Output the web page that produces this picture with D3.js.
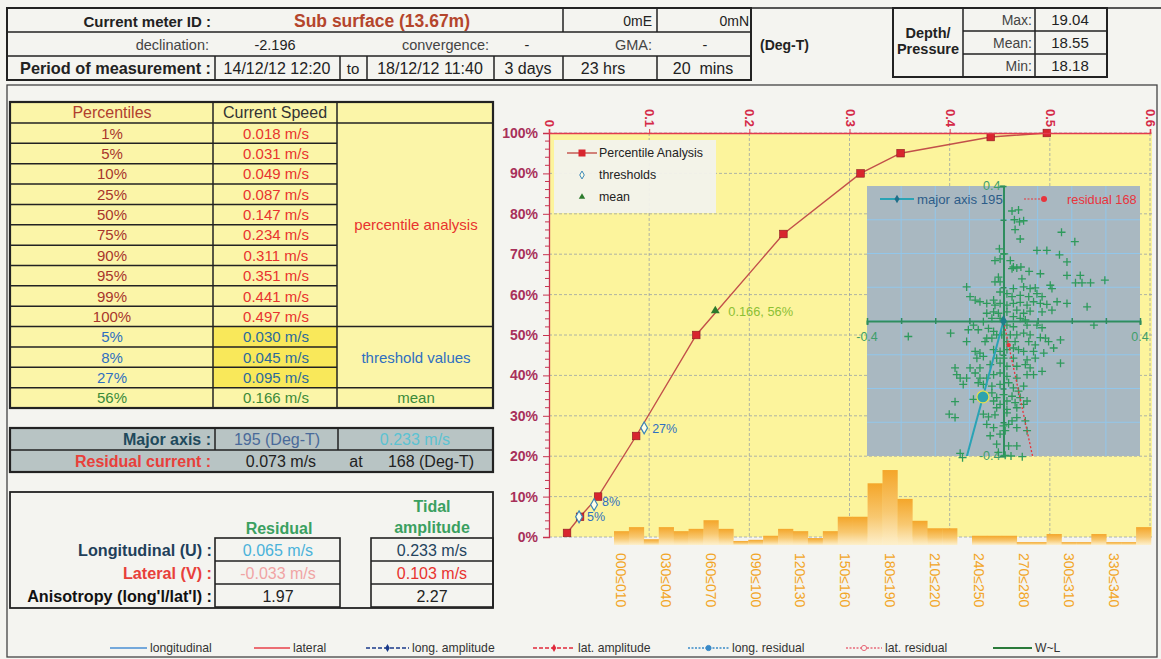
<!DOCTYPE html>
<html>
<head>
<meta charset="utf-8">
<script src="https://cdn.jsdelivr.net/npm/d3@7"></script>
<style>
  html, body { margin: 0; padding: 0; background: #f4f4f0; }
  svg { display: block; font-family: "Liberation Sans", Arial, Helvetica, sans-serif; }
  text { white-space: pre; }
</style>
</head>
<body>
<svg id="chart" width="1161" height="659"></svg>
<script>
// ---------------- data ----------------
const percentileLevels = [1, 5, 10, 25, 50, 75, 90, 95, 99, 100];
const percentileSpeeds = [0.018, 0.031, 0.049, 0.087, 0.147, 0.234, 0.311, 0.351, 0.441, 0.497];
const thresholdLevels = [5, 8, 27];
const thresholdSpeeds = [0.030, 0.045, 0.095];
const meanLevel = 56;
const meanSpeed = 0.166;

const speedTicks = [0, 0.1, 0.2, 0.3, 0.4, 0.5, 0.6];
const percentTicks = [0, 10, 20, 30, 40, 50, 60, 70, 80, 90, 100];

// direction histogram, 10 degree sectors (% of records)
const directionBins = ["000≤010","010≤020","020≤030","030≤040","040≤050","050≤060","060≤070","070≤080","080≤090",
  "090≤100","100≤110","110≤120","120≤130","130≤140","140≤150","150≤160","160≤170","170≤180",
  "180≤190","190≤200","200≤210","210≤220","220≤230","230≤240","240≤250","250≤260","260≤270",
  "270≤280","280≤290","290≤300","300≤310","310≤320","320≤330","330≤340","340≤350","350≤360"];
const directionFreq = [2.4, 3.1, 1.0, 3.1, 2.4, 2.8, 4.3, 2.8, 0.7, 0.9, 1.6, 2.8, 2.4, 1.2, 2.4, 4.9, 4.9, 10.7,
  13.0, 8.0, 4.2, 2.9, 2.9, 0.0, 1.6, 1.6, 1.6, 0.5, 0.5, 1.9, 0.5, 0.5, 1.9, 0.5, 0.5, 3.1];
const directionLabelEvery = 3;

// scatter of east (u) / north (v) current components, m/s
const currentSamples = [
  [0.025,0.326],[0.044,0.329],[0.032,0.300],[0.047,0.294],[0.059,0.297],[0.034,0.271],[0.049,0.243],
  [0.170,0.263],[0.209,0.235],[0.098,0.209],[0.127,0.209],[0.164,0.196],[0.186,0.175],[-0.012,0.214],
  [0.002,0.199],[-0.025,0.179],[-0.010,0.184],[0.020,0.179],[0.029,0.160],[0.051,0.160],[0.039,0.157],
  [0.025,0.155],[0.075,0.147],[0.054,0.125],[0.108,0.140],[0.186,0.135],[0.225,0.135],[0.211,0.113],
  [0.230,0.113],[0.255,0.113],[0.297,0.121],[-0.015,0.130],[-0.010,0.116],[-0.025,0.116],[-0.108,0.101],
  [0.029,0.096],[0.059,0.101],[0.078,0.096],[0.093,0.098],[0.137,0.106],[0.142,0.096],[0.098,0.081],
  [0.113,0.072],[-0.010,0.086],[0.010,0.081],[0.025,0.072],[0.049,0.076],[0.074,0.072],[-0.098,0.072],
  [-0.083,0.062],[-0.069,0.057],[-0.049,0.052],[-0.029,0.062],[-0.025,0.047],[-0.010,0.052],[0.010,0.047],
  [0.029,0.052],[0.049,0.055],[0.069,0.047],[0.088,0.057],[0.108,0.052],[0.127,0.049],[0.157,0.057],
  [0.186,0.052],[0.245,0.042],[-0.049,0.023],[-0.029,0.027],[-0.015,0.023],[0.010,0.027],[0.039,0.032],
  [0.059,0.023],[0.078,0.029],[0.113,0.027],[0.142,0.032],[-0.010,0.008],[-0.034,0.008],[-0.059,-0.002],
  [-0.088,-0.012],[0.029,0.013],[0.049,0.008],[0.064,0.003],[0.265,-0.012],[-0.279,-0.046],[-0.155,-0.036],
  [-0.103,-0.026],[-0.074,-0.026],[-0.044,-0.022],[-0.029,-0.031],[0.010,-0.012],[0.029,-0.017],[0.069,-0.012],
  [0.098,-0.012],[0.113,-0.020],[-0.049,-0.051],[-0.034,-0.051],[-0.020,-0.041],[-0.005,-0.041],[0.020,-0.041],
  [0.039,-0.041],[0.059,-0.036],[0.078,-0.041],[0.108,-0.049],[0.123,-0.051],[0.132,-0.061],[0.167,-0.056],
  [-0.108,-0.061],[-0.054,-0.061],[0.010,-0.061],[0.034,-0.061],[0.074,-0.061],[0.093,-0.071],[-0.083,-0.090],
  [-0.069,-0.095],[-0.029,-0.085],[-0.010,-0.090],[0.010,-0.085],[0.029,-0.080],[0.044,-0.085],[0.059,-0.090],
  [0.088,-0.090],[0.118,-0.095],[0.147,-0.080],[-0.078,-0.110],[-0.059,-0.105],[-0.020,-0.110],[0.000,-0.110],
  [0.029,-0.110],[0.069,-0.115],[0.093,-0.110],[0.167,-0.125],[-0.142,-0.139],[-0.098,-0.139],[-0.069,-0.139],
  [-0.039,-0.129],[-0.010,-0.125],[0.010,-0.134],[0.039,-0.134],[0.064,-0.129],[0.078,-0.139],[-0.137,-0.159],
  [-0.127,-0.169],[-0.108,-0.169],[-0.083,-0.154],[-0.069,-0.169],[-0.049,-0.169],[-0.029,-0.159],[-0.010,-0.154],
  [0.010,-0.164],[0.039,-0.169],[0.069,-0.159],[0.088,-0.159],[0.113,-0.149],[-0.118,-0.188],[-0.074,-0.183],
  [-0.059,-0.188],[-0.034,-0.193],[-0.010,-0.188],[0.015,-0.183],[0.029,-0.198],[0.044,-0.208],[0.059,-0.193],
  [-0.034,-0.213],[-0.020,-0.227],[0.000,-0.218],[0.025,-0.223],[0.049,-0.227],[-0.142,-0.239],[-0.088,-0.232],
  [-0.029,-0.237],[-0.010,-0.247],[0.010,-0.237],[0.034,-0.242],[0.069,-0.237],[-0.020,-0.257],[0.010,-0.262],
  [0.039,-0.257],[0.059,-0.247],[-0.159,-0.276],[-0.142,-0.286],[-0.059,-0.276],[-0.044,-0.284],[-0.025,-0.278],
  [0.010,-0.272],[0.025,-0.296],[0.039,-0.286],[0.064,-0.296],[-0.049,-0.306],[-0.029,-0.316],[0.000,-0.311],
  [0.015,-0.306],[0.039,-0.316],[-0.039,-0.340],[-0.010,-0.335],[0.005,-0.325],[0.069,-0.325],[-0.020,-0.365],
  [0.015,-0.370],[0.039,-0.370],[-0.127,-0.392],[-0.015,-0.389],[-0.120,-0.405],[0.005,-0.398],[0.022,-0.400],
  [0.055,-0.402]
];
const scatterTicks = [-0.4, -0.3, -0.2, -0.1, 0, 0.1, 0.2, 0.3, 0.4];
const majorAxisDir = 195, majorAxisAmp = 0.233;
const residualDir = 168, residualSpeed = 0.073;

// ---------------- helpers ----------------
const svg = d3.select("#chart");
svg.append("rect").attr("width", 1161).attr("height", 659).attr("fill", "#f4f4f0");

function label(g, x, y, s, o = {}) {
  return g.append("text")
    .attr("x", x).attr("y", y)
    .attr("text-anchor", o.anchor || "middle")
    .attr("dominant-baseline", "central")
    .attr("font-size", o.size || 12)
    .attr("font-weight", o.weight || "normal")
    .attr("fill", o.fill || "#222")
    .text(s);
}
function rule(g, x1, y1, x2, y2, o = {}) {
  return g.append("line").attr("x1", x1).attr("y1", y1).attr("x2", x2).attr("y2", y2)
    .attr("stroke", o.stroke || "#222").attr("stroke-width", o.width || 1.5)
    .attr("stroke-dasharray", o.dash || null);
}
function box(g, x, y, w, h, o = {}) {
  return g.append("rect").attr("x", x).attr("y", y).attr("width", w).attr("height", h)
    .attr("fill", o.fill || "none").attr("stroke", o.stroke || "#222").attr("stroke-width", o.width || 2);
}
const fmtSpeed = v => d3.format(".3f")(v) + " m/s";

// ---------------- header block ----------------
const head = svg.append("g");
rule(head, 7, 8, 1161, 8, {width: 1.6});
box(head, 7, 8, 744, 72);
rule(head, 7, 32, 751, 32);
rule(head, 7, 56, 751, 56);
[563, 657].forEach(x => rule(head, x, 8, x, 32));
[215, 340, 367, 494, 563, 657].forEach(x => rule(head, x, 56, x, 80));

label(head, 211, 21, "Current meter ID :", {anchor: "end", weight: "bold", size: 15});
label(head, 382, 21, "Sub surface (13.67m)", {weight: "bold", size: 17.5, fill: "#b4452c"});
label(head, 652, 21, "0mE", {anchor: "end", size: 14});
label(head, 749, 21, "0mN", {anchor: "end", size: 14});

label(head, 209, 45, "declination:", {anchor: "end", size: 14.5, fill: "#444"});
label(head, 275, 45, "-2.196", {size: 14.5});
label(head, 489, 45, "convergence:", {anchor: "end", size: 14.5, fill: "#444"});
label(head, 527, 45, "-", {size: 14.5});
label(head, 652, 45, "GMA:", {anchor: "end", size: 14.5, fill: "#444"});
label(head, 705, 45, "-", {size: 14.5});
label(head, 760, 45, "(Deg-T)", {anchor: "start", weight: "bold", size: 14});

label(head, 211, 68, "Period of measurement :", {anchor: "end", weight: "bold", size: 16.3});
label(head, 277, 68, "14/12/12 12:20", {size: 16});
label(head, 353, 68, "to", {size: 15});
label(head, 430, 68, "18/12/12 11:40", {size: 16});
label(head, 528, 68, "3 days", {size: 16});
label(head, 603, 68, "23 hrs", {size: 16});
label(head, 703, 68, "20  mins", {size: 16});

// depth / pressure block
box(head, 893, 8, 214, 69);
rule(head, 963, 8, 963, 77);
rule(head, 1035, 8, 1035, 77);
rule(head, 963, 31, 1107, 31);
rule(head, 963, 54, 1107, 54);
label(head, 928, 33, "Depth/", {weight: "bold", size: 14.5});
label(head, 928, 49, "Pressure", {weight: "bold", size: 14.5});
[["Max:", "19.04", 19.5], ["Mean:", "18.55", 42.5], ["Min:", "18.18", 65.5]].forEach(([k, v, y]) => {
  label(head, 1032, y, k, {anchor: "end", size: 14, fill: "#444"});
  label(head, 1070, y, v, {size: 15});
});

// lower frame
box(svg, 7, 85, 1150, 572, {stroke: "#444", width: 1.3});

// ---------------- percentile table ----------------
const tbl = svg.append("g");
const tTop = 102, tHead = 123, rowH = (408 - tHead) / 14;
const rowsY = d3.range(15).map(i => tHead + i * rowH);
box(tbl, 10, tTop, 483, 306, {fill: "#fbf5a8", stroke: "none"});
// brighter cells for threshold speeds
tbl.append("rect").attr("x", 213).attr("y", rowsY[10]).attr("width", 124).attr("height", rowH * 3)
  .attr("fill", "#f9e85a");
// grid lines
rule(tbl, 10, tHead, 493, tHead);
rowsY.slice(1, 14).forEach((y, i) => rule(tbl, 10, y, (i === 9 || i === 12) ? 493 : 337, y));
[213, 337].forEach(x => rule(tbl, x, tTop, x, 408));
box(tbl, 10, tTop, 483, 306, {width: 2.2});

label(tbl, 112, 112.5, "Percentiles", {size: 16, fill: "#b0402e"});
label(tbl, 275, 112.5, "Current Speed", {size: 16, fill: "#333"});
percentileLevels.forEach((p, i) => {
  const yc = rowsY[i] + rowH / 2;
  label(tbl, 112, yc, p + "%", {size: 15, fill: "#a8352c"});
  label(tbl, 276, yc, fmtSpeed(percentileSpeeds[i]), {size: 15, fill: "#e8332e"});
});
thresholdLevels.forEach((p, i) => {
  const yc = rowsY[10 + i] + rowH / 2;
  label(tbl, 112, yc, p + "%", {size: 15, fill: "#2f6fc0"});
  label(tbl, 276, yc, fmtSpeed(thresholdSpeeds[i]), {size: 15, fill: "#2a6a9a"});
});
label(tbl, 112, rowsY[13] + rowH / 2, meanLevel + "%", {size: 15, fill: "#3a8a3a"});
label(tbl, 276, rowsY[13] + rowH / 2, fmtSpeed(meanSpeed), {size: 15, fill: "#3a8a3a"});
label(tbl, 416, (rowsY[0] + rowsY[10]) / 2, "percentile analysis", {size: 15, fill: "#e8332e"});
label(tbl, 416, (rowsY[10] + rowsY[13]) / 2, "threshold values", {size: 15, fill: "#2f6fc0"});
label(tbl, 416, rowsY[13] + rowH / 2, "mean", {size: 15, fill: "#3a8a3a"});

// ---------------- major axis / residual box ----------------
const ax = svg.append("g");
box(ax, 10, 428, 483, 44, {fill: "#b8c4c4", stroke: "none"});
rule(ax, 10, 450, 493, 450);
[215, 338].forEach(x => rule(ax, x, 428, x, 450));
box(ax, 10, 428, 483, 44, {width: 2.2});
label(ax, 211, 439, "Major axis :", {anchor: "end", weight: "bold", size: 16, fill: "#1f4a5c"});
label(ax, 277, 439, majorAxisDir + " (Deg-T)", {size: 16, fill: "#4a6a9a"});
label(ax, 415, 439, fmtSpeed(majorAxisAmp), {size: 16, fill: "#5cc2d2"});
label(ax, 211, 461.5, "Residual current :", {anchor: "end", weight: "bold", size: 16, fill: "#e8403a"});
label(ax, 281, 461.5, fmtSpeed(residualSpeed), {size: 16});
label(ax, 356, 461.5, "at", {size: 16});
label(ax, 431, 461.5, residualDir + " (Deg-T)", {size: 16});

// ---------------- residual / tidal amplitude box ----------------
const rt = svg.append("g");
box(rt, 10, 492, 483, 116, {width: 1.8});
[[215, 340], [371, 493]].forEach(([x0, x1]) => {
  box(rt, x0, 538, x1 - x0, 69, {width: 1.6});
  rule(rt, x0, 561, x1, 561, {width: 1.4});
  rule(rt, x0, 584, x1, 584, {width: 1.4});
});
label(rt, 432, 506, "Tidal", {weight: "bold", size: 16, fill: "#3aa060"});
label(rt, 432, 527, "amplitude", {weight: "bold", size: 16, fill: "#3aa060"});
label(rt, 279, 528, "Residual", {weight: "bold", size: 16, fill: "#3aa060"});
label(rt, 212, 550, "Longitudinal (U) :", {anchor: "end", weight: "bold", size: 16.2, fill: "#1f3f5a"});
label(rt, 212, 573, "Lateral (V) :", {anchor: "end", weight: "bold", size: 16.2, fill: "#e8403a"});
label(rt, 212, 596, "Anisotropy (long'l/lat'l) :", {anchor: "end", weight: "bold", size: 16.2, fill: "#111"});
label(rt, 278, 550, "0.065 m/s", {size: 16, fill: "#4ab2da"});
label(rt, 278, 573, "-0.033 m/s", {size: 16, fill: "#f0a4a4"});
label(rt, 278, 596, "1.97", {size: 16});
label(rt, 432, 550, "0.233 m/s", {size: 16, fill: "#24445e"});
label(rt, 432, 573, "0.103 m/s", {size: 16, fill: "#e8332e"});
label(rt, 432, 596, "2.27", {size: 16});

// ---------------- percentile chart ----------------
const x = d3.scaleLinear().domain([0, 0.6]).range([549, 1150]);
const y = d3.scaleLinear().domain([0, 100]).range([537, 133]);
const xBin = d3.scaleBand().domain(directionBins).range([614, 1151]).padding(0);
const yBar = d3.scaleLinear().domain([0, 15]).range([545, 458.5]);

const defs = svg.append("defs");
const grad = defs.append("linearGradient").attr("id", "barFill").attr("x1", 0).attr("y1", 0).attr("x2", 0).attr("y2", 1);
grad.append("stop").attr("offset", "0%").attr("stop-color", "#f4a62a");
grad.append("stop").attr("offset", "55%").attr("stop-color", "#f8c870");
grad.append("stop").attr("offset", "100%").attr("stop-color", "#fdf0cc");

const chart = svg.append("g");
chart.append("rect").attr("x", 549).attr("y", 133).attr("width", 603).attr("height", 404).attr("fill", "#fcf49c");

// grid
chart.append("g").selectAll("line").data(percentTicks).join("line")
  .attr("x1", 549).attr("x2", 1152).attr("y1", d => y(d)).attr("y2", d => y(d))
  .attr("stroke", "#9aa3a6").attr("stroke-width", 0.8).attr("stroke-dasharray", "3,2");
chart.append("g").selectAll("line").data(speedTicks.slice(1)).join("line")
  .attr("x1", d => x(d)).attr("x2", d => x(d)).attr("y1", 133).attr("y2", 537)
  .attr("stroke", "#9aa3a6").attr("stroke-width", 0.8).attr("stroke-dasharray", "3,2");

// direction histogram
chart.append("g").selectAll("rect").data(directionFreq).join("rect")
  .attr("x", (d, i) => xBin(directionBins[i]))
  .attr("width", xBin.bandwidth() + 0.3)
  .attr("y", d => yBar(d))
  .attr("height", d => yBar(0) - yBar(d))
  .attr("fill", "url(#barFill)");
chart.append("g").selectAll("text")
  .data(directionBins.filter((d, i) => i % directionLabelEvery === 0)).join("text")
  .attr("transform", d => `translate(${xBin(d) + xBin.bandwidth() / 2},553) rotate(90)`)
  .attr("text-anchor", "start").attr("dominant-baseline", "central")
  .attr("font-size", 14).attr("fill", "#f2a526").text(d => d);

// ---------------- inset: current scatter ----------------
const xs = d3.scaleLinear().domain([-0.4, 0.4]).range([867, 1140]);
const ys = d3.scaleLinear().domain([-0.4, 0.4]).range([456, 186]);
const inset = svg.append("g");
inset.append("rect").attr("x", 867).attr("y", 186).attr("width", 273).attr("height", 270).attr("fill", "#a9b8c1");
defs.append("clipPath").attr("id", "insetClip").append("rect")
  .attr("x", 867).attr("y", 186).attr("width", 273).attr("height", 270);
inset.append("g").selectAll("line").data(scatterTicks.slice(1, -1)).join("line")
  .attr("x1", d => xs(d)).attr("x2", d => xs(d)).attr("y1", 186).attr("y2", 456)
  .attr("stroke", "#92c6ea").attr("stroke-width", 1);
inset.append("g").selectAll("line").data(scatterTicks.slice(1, -1)).join("line")
  .attr("y1", d => ys(d)).attr("y2", d => ys(d)).attr("x1", 867).attr("x2", 1140)
  .attr("stroke", "#92c6ea").attr("stroke-width", 1);

// zero axes with ticks
const axGreen = "#2f8d5e";
const hAxis = inset.append("g").attr("transform", `translate(0,${ys(0)})`)
  .call(d3.axisBottom(xs).tickValues(scatterTicks).tickSize(4).tickFormat(""));
const vAxis = inset.append("g").attr("transform", `translate(${xs(0)},0)`)
  .call(d3.axisLeft(ys).tickValues(scatterTicks).tickSize(4).tickFormat(""));
[hAxis, vAxis].forEach(a => {
  a.select(".domain").attr("stroke", axGreen).attr("stroke-width", 2);
  a.selectAll(".tick line").attr("stroke", axGreen).attr("stroke-width", 1.5);
});
hAxis.selectAll(".tick line").attr("y1", -3).attr("y2", 3);
vAxis.selectAll(".tick line").attr("x1", -3).attr("x2", 3);
label(inset, xs(-0.4), ys(0) + 16, "-0.4", {size: 12.5, fill: "#3f9e6a"});
label(inset, xs(0.4), ys(0) + 16, "0.4", {size: 12.5, fill: "#3f9e6a"});
label(inset, xs(0) - 3, ys(0.4), "0.4", {anchor: "end", size: 12.5, fill: "#3f9e6a"});
label(inset, xs(0) - 3, ys(-0.4), "-0.4", {anchor: "end", size: 12.5, fill: "#3f9e6a"});

// sample crosses
inset.append("g").selectAll("path").data(currentSamples).join("path")
  .attr("transform", d => `translate(${xs(d[0])},${ys(d[1])})`)
  .attr("d", "M-4,0H4M0,-4V4")
  .attr("stroke", "#2e9a5c").attr("stroke-width", 1.3).attr("fill", "none");

// direction vectors (bearing clockwise from north)
const vec = (deg, s) => [s * Math.sin(deg * Math.PI / 180), s * Math.cos(deg * Math.PI / 180)];
const clipG = inset.append("g").attr("clip-path", "url(#insetClip)");
const majEnd = vec(majorAxisDir, majorAxisAmp * 2);
clipG.append("line").attr("x1", xs(0)).attr("y1", ys(0)).attr("x2", xs(majEnd[0])).attr("y2", ys(majEnd[1]))
  .attr("stroke", "#2aa3b5").attr("stroke-width", 2);
const resEnd = vec(residualDir, 0.5);
clipG.append("line").attr("x1", xs(0)).attr("y1", ys(0)).attr("x2", xs(resEnd[0])).attr("y2", ys(resEnd[1]))
  .attr("stroke", "#e8343c").attr("stroke-width", 1.3).attr("stroke-dasharray", "2,2");
const resPt = vec(residualDir, residualSpeed);
inset.append("circle").attr("cx", xs(resPt[0])).attr("cy", ys(resPt[1])).attr("r", 2.2).attr("fill", "#e8343c");
const majPt = vec(majorAxisDir, majorAxisAmp);
inset.append("circle").attr("cx", xs(majPt[0])).attr("cy", ys(majPt[1])).attr("r", 6)
  .attr("fill", "#2ea3ae").attr("stroke", "#e6e04a").attr("stroke-width", 1.2);
inset.append("path").attr("transform", `translate(${xs(0)},${ys(0)})`)
  .attr("d", d3.symbol(d3.symbolDiamond, 40)()).attr("fill", "#1f7f8a");

// inset legend
rule(inset, 880, 199, 914, 199, {stroke: "#2aa3b5", width: 2});
inset.append("path").attr("transform", "translate(897,199)").attr("d", d3.symbol(d3.symbolDiamond, 22)()).attr("fill", "#1f6f8a");
label(inset, 917, 199, "major axis " + majorAxisDir, {anchor: "start", size: 13.2, fill: "#2c5c88"});
rule(inset, 1024, 199, 1048, 199, {stroke: "#e8343c", width: 1.2, dash: "2,1.5"});
inset.append("circle").attr("cx", 1044).attr("cy", 199).attr("r", 3).attr("fill", "#e8343c");
label(inset, 1067, 199, "residual " + residualDir, {anchor: "start", size: 12.8, fill: "#e8343c"});

// ---------------- percentile curve ----------------
const pts = percentileSpeeds.map((s, i) => [s, percentileLevels[i]]);
chart.append("path").datum(pts)
  .attr("d", d3.line().x(d => x(d[0])).y(d => y(d[1])))
  .attr("fill", "none").attr("stroke", "#c2504a").attr("stroke-width", 1.4);
chart.append("g").selectAll("rect").data(pts).join("rect")
  .attr("x", d => x(d[0]) - 3.8).attr("y", d => y(d[1]) - 3.8).attr("width", 7.6).attr("height", 7.6)
  .attr("fill", "#d8252e").attr("stroke", "#8a1a20").attr("stroke-width", 0.6);

// thresholds
thresholdSpeeds.forEach((s, i) => {
  chart.append("path").attr("transform", `translate(${x(s)},${y(thresholdLevels[i])})`)
    .attr("d", d3.symbol(d3.symbolDiamond, 40)())
    .attr("fill", "#ffffe8").attr("stroke", "#3b86b8").attr("stroke-width", 1.2);
  label(chart, x(s) + 8, y(thresholdLevels[i]) + (i === 1 ? -3 : (i === 0 ? 0 : 1)),
    thresholdLevels[i] + "%", {anchor: "start", size: 12.5, fill: "#2f6fc0"});
});
// mean
chart.append("path").attr("transform", `translate(${x(meanSpeed)},${y(meanLevel)})`)
  .attr("d", d3.symbol(d3.symbolTriangle, 34)()).attr("fill", "#2c7a2c");
label(chart, x(meanSpeed) + 13, y(meanLevel) + 1, d3.format(".3f")(meanSpeed) + ", " + meanLevel + "%",
  {anchor: "start", size: 12.8, fill: "#8cc034"});

// legend
const lg = chart.append("g");
lg.append("rect").attr("x", 554).attr("y", 140).attr("width", 162).attr("height", 73).attr("fill", "#f2f2ec").attr("opacity", 0.95);
rule(lg, 567, 153, 597, 153, {stroke: "#c2504a", width: 1.4});
lg.append("rect").attr("x", 578.5).attr("y", 149.5).attr("width", 7).attr("height", 7).attr("fill", "#d8252e");
label(lg, 599, 153, "Percentile Analysis", {anchor: "start", size: 12.4, fill: "#222"});
lg.append("path").attr("transform", "translate(582,175)").attr("d", d3.symbol(d3.symbolDiamond, 18)())
  .attr("fill", "#ffffe8").attr("stroke", "#3b86b8").attr("stroke-width", 1);
label(lg, 599, 175, "thresholds", {anchor: "start", size: 12.4, fill: "#222"});
lg.append("path").attr("transform", "translate(582,197)").attr("d", d3.symbol(d3.symbolTriangle, 18)()).attr("fill", "#2c7a2c");
label(lg, 599, 197, "mean", {anchor: "start", size: 12.4, fill: "#222"});

// axes
const yAxis = chart.append("g").attr("transform", "translate(549,0)")
  .call(d3.axisLeft(y).tickValues(percentTicks).tickSize(6).tickPadding(5).tickFormat(d => d + "%"));
yAxis.select(".domain").attr("stroke", "#c8324e").attr("stroke-width", 1.3);
yAxis.selectAll(".tick line").attr("stroke", "#c8324e");
yAxis.selectAll(".tick text").attr("font-size", 14).attr("font-weight", "bold").attr("fill", "#a8305a")
  .attr("font-family", "Liberation Sans, Arial, sans-serif");
chart.append("g").selectAll("line").data(d3.range(0, 101, 2).filter(d => d % 10)).join("line")
  .attr("x1", 545).attr("x2", 549).attr("y1", d => y(d)).attr("y2", d => y(d))
  .attr("stroke", "#c8324e").attr("stroke-width", 1);

const xAxis = chart.append("g").attr("transform", "translate(0,133)")
  .call(d3.axisTop(x).tickValues(speedTicks).tickSize(4).tickPadding(4).tickFormat(d3.format("")));
xAxis.select(".domain").attr("stroke", "#e23a4e").attr("stroke-width", 1.6);
xAxis.selectAll(".tick line").attr("stroke", "#e23a4e");
xAxis.selectAll(".tick text")
  .attr("transform", "translate(0,-6) rotate(90)")
  .attr("x", 0).attr("y", 0).attr("dy", null)
  .attr("text-anchor", "end").attr("dominant-baseline", "central")
  .attr("font-size", 13).attr("font-weight", "bold").attr("fill", "#d42a48")
  .attr("font-family", "Liberation Sans, Arial, sans-serif");

// ---------------- bottom series legend ----------------
const seriesLegend = [
  {name: "longitudinal", color: "#4a8fd4", dash: null, marker: null, x0: 110, x1: 147},
  {name: "lateral", color: "#e8404a", dash: null, marker: null, x0: 254, x1: 290},
  {name: "long. amplitude", color: "#1a3a8a", dash: "4,2", marker: "diamond", x0: 366, x1: 409},
  {name: "lat. amplitude", color: "#e0283a", dash: "4,2", marker: "diamond", x0: 533, x1: 575},
  {name: "long. residual", color: "#3a8ac8", dash: "2,1.5", marker: "circle", x0: 688, x1: 729},
  {name: "lat. residual", color: "#e86a7a", dash: "2,1.5", marker: "circle", x0: 846, x1: 882},
  {name: "W~L", color: "#2a7a3a", dash: null, marker: null, x0: 993, x1: 1032}
];
const bl = svg.append("g");
seriesLegend.forEach(s => {
  rule(bl, s.x0, 648, s.x1, 648, {stroke: s.color, width: s.name === "W~L" ? 2.2 : 1.4, dash: s.dash});
  const mx = (s.x0 + s.x1) / 2;
  if (s.marker === "diamond")
    bl.append("path").attr("transform", `translate(${mx},648)`).attr("d", d3.symbol(d3.symbolDiamond, 18)()).attr("fill", s.color);
  if (s.marker === "circle")
    bl.append("circle").attr("cx", mx).attr("cy", 648).attr("r", 2.6).attr("fill", s.name === "lat. residual" ? "#f4f4f0" : s.color).attr("stroke", s.color);
  label(bl, s.x1 + 3, 648, s.name, {anchor: "start", size: 12.2, fill: "#333"});
});
</script>
</body>
</html>
